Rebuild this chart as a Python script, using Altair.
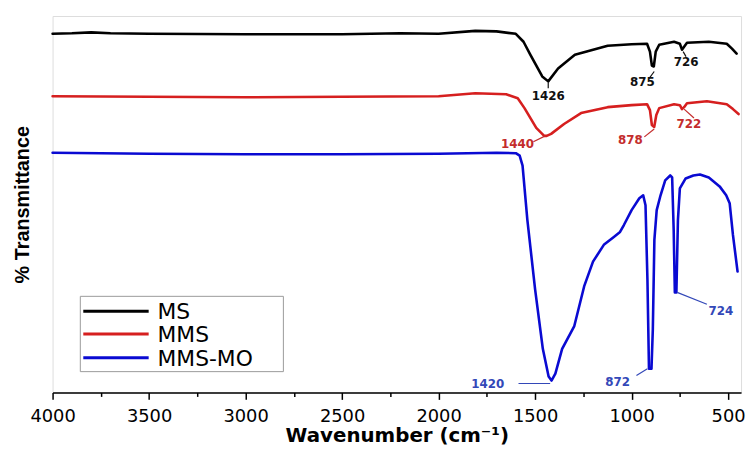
import altair as alt
import pandas as pd

# ---- series data (wavenumber in cm-1, transmittance in arbitrary units) ----
ms_wn = [4000, 3900, 3800, 3700, 3500, 3000, 2500, 2200, 2000, 1810, 1700, 1600, 1560, 1525,
         1463, 1432, 1381, 1294, 1124, 1000, 920, 905, 895, 885, 875, 857, 780, 750, 739,
         728, 713, 600, 507, 480, 456]
ms_t = [362, 362.5, 363.5, 362.5, 362, 361.5, 361.5, 362.5, 362, 365, 364.5, 362, 354, 341,
        319, 314, 327, 341, 350, 351.5, 352, 344, 330, 329, 344, 351, 354, 352, 346,
        349, 353, 354, 352, 347, 342]

mms_wn = [4000, 3500, 3000, 2500, 2000, 1810, 1650, 1590, 1555, 1494, 1453, 1440, 1417, 1350,
          1262, 1124, 1000, 920, 905, 895, 883, 872, 857, 780, 750, 739, 728, 713, 610,
          507, 475, 446]
mms_t = [299, 298.5, 298, 298.5, 299, 302, 301, 297, 287, 267, 259, 259, 261, 271,
         282, 288, 290, 291, 285, 270, 268, 280, 287, 291, 290, 286, 288, 292, 294,
         291, 286, 281]

mmsmo_wn = [4000, 3500, 3000, 2500, 2000, 1700, 1600, 1580, 1565, 1540, 1500, 1460, 1430,
            1415, 1395, 1360, 1297, 1246, 1200, 1144, 1092, 1060, 1040, 1000, 960, 940,
            928, 918, 910, 897, 890, 882, 870, 850, 826, 800, 790, 782, 776, 768, 760,
            750, 720, 680, 646, 600, 544, 510, 492, 475, 451]
mmsmo_t = [242, 241, 240.5, 240.5, 241, 242, 241.5, 239, 229, 174, 104, 44, 16,
           12, 19, 44, 67, 107, 132, 149, 157, 162, 169, 184, 196, 199,
           189, 114, 24, 24, 64, 154, 184, 199, 214, 219, 217, 164, 101, 101, 174,
           206, 216, 219, 220, 217, 208, 199, 191, 159, 122]

series_names = ["MS", "MMS", "MMS-MO"]
series_colors = ["#000000", "#d61f1f", "#0a0ad2"]
series_widths = [2.6, 2.6, 4.0]

# ---- peak annotations ----
ann_text = ["1426", "875", "726", "1440", "878", "722", "1420", "872", "724"]
ann_wn = [1432, 944, 718, 1591, 1006, 703, 1745, 1072, 538]
ann_t = [299, 313, 334, 251, 255, 271, 8, 10, 82]
ann_color = ["#111111", "#111111", "#111111", "#c42c2c", "#c42c2c", "#c42c2c",
             "#3348b8", "#3348b8", "#3348b8"]
lead_wn1 = [1432, 883, 733, 1447, 883, 728, 1586, 975, 764]
lead_wn2 = [1432, 909, 718, 1509, 934, 677, 1422, 918, 610]
lead_t1 = [313, 324, 344, 259, 266, 286, 9, 17, 101]
lead_t2 = [307, 317, 339, 253, 258, 277, 9, 24, 89]

rows = []
for name, wn, t in [("MS", ms_wn, ms_t), ("MMS", mms_wn, mms_t), ("MMS-MO", mmsmo_wn, mmsmo_t)]:
    for i, (w, v) in enumerate(zip(wn, t)):
        rows.append({"series": name, "wn": w, "T": v, "order": i})
df = pd.DataFrame(rows)

ann_df = pd.DataFrame({"text": ann_text, "wn": ann_wn, "T": ann_t, "color": ann_color})
lead_df = pd.DataFrame({"wn1": lead_wn1, "wn2": lead_wn2, "t1": lead_t1, "t2": lead_t2,
                        "color": ann_color})

x_scale = alt.Scale(domain=[433, 4000], reverse=True, nice=False, zero=False)
y_scale = alt.Scale(domain=[0, 380], nice=False, zero=False)

x_axis = alt.Axis(
    values=list(range(500, 4001, 250)),
    labelExpr="datum.value % 500 === 0 ? datum.label : ''",
    format="d",
    title="Wavenumber (cm⁻¹)",
    titleFont="DejaVu Sans", titleFontWeight="bold", titleFontSize=20, titleColor="#000",
    titlePadding=1,
    labelFont="DejaVu Sans", labelFontSize=18, labelColor="#000", labelPadding=8,
    tickSize={"condition": {"test": "datum.value % 500 === 0", "value": 7}, "value": 4},
    tickColor="#000", tickWidth=1.5,
    domainColor="#000", domainWidth=1.5,
    grid=False, labelFlush=False, labelOverlap=False,
)
y_axis = alt.Axis(
    title="% Transmittance", labels=False, ticks=False, domain=False, grid=False,
    titleFont="Liberation Sans", titleFontWeight="bold", titleFontSize=20, titleColor="#000",
    titlePadding=20,
)

lines = alt.Chart(df).mark_line(strokeJoin="round", strokeCap="round").encode(
    x=alt.X("wn:Q", scale=x_scale, axis=x_axis),
    y=alt.Y("T:Q", scale=y_scale, axis=y_axis),
    color=alt.Color("series:N",
                    scale=alt.Scale(domain=series_names, range=series_colors),
                    legend=None),
    strokeWidth=alt.StrokeWidth("series:N",
                                scale=alt.Scale(domain=series_names, range=series_widths),
                                legend=None),
    order="order:Q",
    detail="series:N",
)

leaders = alt.Chart(lead_df).mark_rule(strokeWidth=1.2).encode(
    x="wn1:Q", x2="wn2:Q", y="t1:Q", y2="t2:Q",
    color=alt.Color("color:N", scale=None),
)

labels = alt.Chart(ann_df).mark_text(
    font="DejaVu Sans", fontWeight="bold", fontSize=12, align="center", baseline="middle"
).encode(
    x="wn:Q", y="T:Q", text="text:N",
    color=alt.Color("color:N", scale=None),
)

# ---- custom legend box (pixel layout inside the plot area) ----
one = pd.DataFrame({"k": [0]})
legend_layers = [
    alt.Chart(one).mark_rect(fill="#ffffff", stroke="#9a9a9a", strokeWidth=1).encode(
        x=alt.value(28), x2=alt.value(233), y=alt.value(283), y2=alt.value(359)
    )
]
row_y = [298, 321, 345]
for name, col, ry in zip(series_names, series_colors, row_y):
    legend_layers.append(
        alt.Chart(one).mark_rule(strokeWidth=3, color=col).encode(
            x=alt.value(31), x2=alt.value(97), y=alt.value(ry)
        )
    )
    legend_layers.append(
        alt.Chart(one).mark_text(font="DejaVu Sans", fontSize=22, align="left",
                                 baseline="middle", color="#000").encode(
            x=alt.value(106), y=alt.value(ry + 1), text=alt.value(name)
        )
    )

chart = alt.layer(lines, leaders, labels, *legend_layers).properties(
    width=695, height=380,
    autosize=alt.AutoSizeParams(type="none"),
    padding={"left": 45, "top": 6, "right": 5, "bottom": 52},
).configure_view(
    stroke="#000", strokeWidth=1.5
).configure(background="#ffffff")

chart.save("out.html", embed_options={"renderer": "svg", "actions": False})
